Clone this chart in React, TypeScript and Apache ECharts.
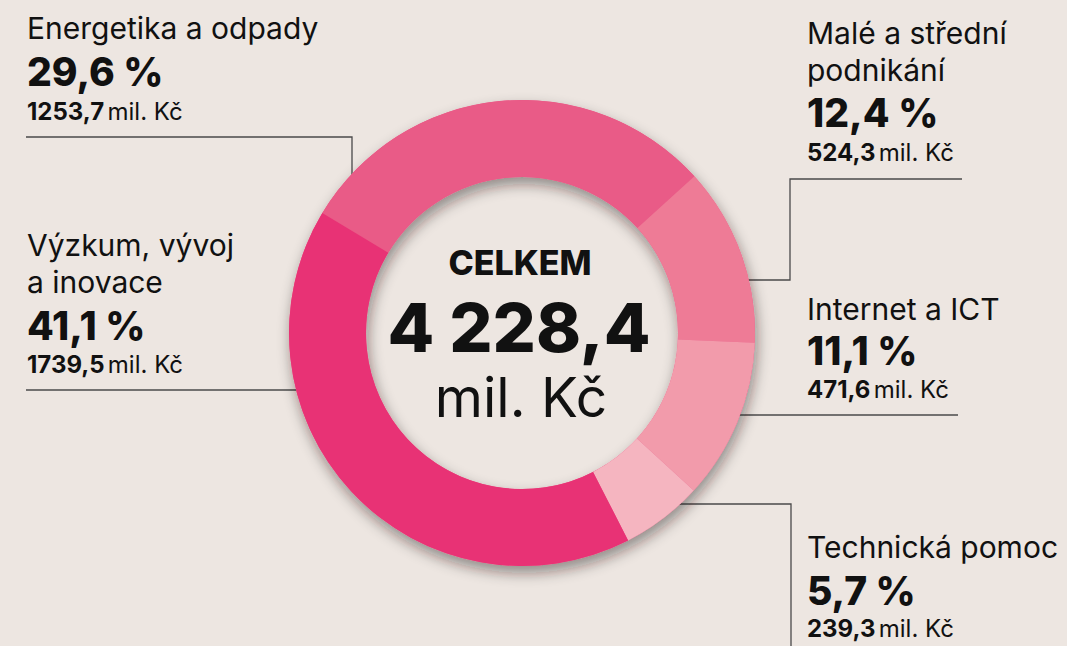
import React, { useEffect, useRef } from "react";
import * as echarts from "echarts";

// ---- data ----
const CATEGORIES = [
  "Energetika a odpady",
  "Malé a střední podnikání",
  "Internet a ICT",
  "Technická pomoc",
  "Výzkum, vývoj a inovace",
];
const LABEL_LINES = [
  ["Energetika a odpady"],
  ["Malé a střední", "podnikání"],
  ["Internet a ICT"],
  ["Technická pomoc"],
  ["Výzkum, vývoj", "a inovace"],
];
const VALUES = [1253.7, 524.3, 471.6, 239.3, 1739.5]; // mil. Kč
const SHARES = [29.6, 12.4, 11.1, 5.7, 41.1]; // %
const TOTAL = 4228.4;
const CENTER_TITLE = "CELKEM";
const UNIT = "mil. Kč";

// ---- styles / layout ----
const COLORS = ["#E95B87", "#EE7B96", "#F29BAB", "#F5B5C0", "#E83275"];
const BG = "#EDE6E1";
const FONT = "Inter, 'Noto Sans', sans-serif";
const CX = 522;
const CY = 333;
const R_IN = 156;
const R_OUT = 233;

// label blocks: x, y of each line's cap-centre
const LABEL_POS = [
  { x: 27, lines: [28], pct: 71.5, val: 111.5 },
  { x: 807, lines: [33, 70], pct: 112.5, val: 152.5 },
  { x: 807, lines: [309], pct: 350.5, val: 389.5 },
  { x: 807, lines: [547], pct: 590, val: 628.5 },
  { x: 27, lines: [245, 282], pct: 325.5, val: 364.5 },
];
const LEADERS = [
  [[26, 137], [352, 137], [352, 185]],
  [[962, 179], [790, 179], [790, 280], [745, 280]],
  [[958, 415], [735, 415]],
  [[791, 646], [791, 504], [675, 504]],
  [[26, 390], [300, 390]],
];

const fmt = (v: number) => v.toFixed(1).replace(".", ",");
const fmtTotal = (v: number) => {
  const [i, d] = v.toFixed(1).split(".");
  return i.replace(/\B(?=(\d{3})+(?!\d))/g, " ") + "," + d;
};

function txt(x: number, y: number, text: string, size: number, weight: any, align = "left") {
  return {
    type: "text",
    x,
    y,
    z: 10,
    style: {
      text,
      fill: "#111",
      fontSize: size,
      fontWeight: weight,
      fontFamily: FONT,
      align,
      verticalAlign: "middle",
      textAlign: align,
      textVerticalAlign: "middle",
    },
  };
}

function valText(x: number, y: number, v: number) {
  return {
    type: "text",
    x,
    y,
    z: 10,
    style: {
      text: `{b|${fmt(v)}} {r|${UNIT}}`,
      fill: "#111",
      align: "left",
      verticalAlign: "middle",
      textAlign: "left",
      textVerticalAlign: "middle",
      rich: {
        b: { fontSize: 24, fontWeight: 700, fontFamily: FONT, fill: "#111", color: "#111" },
        r: { fontSize: 24, fontWeight: 400, fontFamily: FONT, fill: "#111", color: "#111" },
      },
    },
  };
}

export default function App() {
  const ref = useRef<HTMLDivElement>(null);
  useEffect(() => {
    if (!ref.current) return;
    const chart = echarts.init(ref.current, undefined, { renderer: "svg" });

    const elements: any[] = [];
    LEADERS.forEach((pts) => {
      elements.push({
        type: "polyline",
        z: 0,
        shape: { points: pts },
        style: { stroke: "#4a4a4a", lineWidth: 1.3, fill: null },
      });
    });
    LABEL_POS.forEach((p, i) => {
      LABEL_LINES[i].forEach((line, j) => {
        elements.push(txt(p.x, p.lines[j], line, 30, 400));
      });
      elements.push(txt(p.x, p.pct, `${fmt(SHARES[i])} %`, 39, 800));
      elements.push(valText(p.x, p.val, VALUES[i]));
    });
    elements.push(txt(CX - 2, 262, CENTER_TITLE, 34, 800, "center"));
    elements.push(txt(CX - 3, 327, fmtTotal(TOTAL), 68, 800, "center"));
    elements.push(txt(CX - 1, 397, UNIT, 55, 400, "center"));

    chart.setOption({
      animation: false,
      backgroundColor: BG,
      graphic: { elements },
      series: [
        {
          type: "pie",
          name: "shadow",
          silent: true,
          z: 1,
          center: [CX, CY],
          radius: [R_IN, R_OUT],
          label: { show: false },
          labelLine: { show: false },
          itemStyle: {
            color: "#E95B87",
            shadowBlur: 14,
            shadowColor: "rgba(40,30,30,0.45)",
            shadowOffsetX: 2,
            shadowOffsetY: 7,
          },
          data: [{ value: TOTAL, name: "total" }],
        },
        {
          type: "pie",
          name: "Rozpočet",
          z: 2,
          center: [CX, CY],
          radius: [R_IN, R_OUT],
          startAngle: 149,
          clockwise: true,
          label: { show: false },
          labelLine: { show: false },
          itemStyle: { borderWidth: 0 },
          emphasis: { disabled: true },
          data: CATEGORIES.map((name, i) => ({
            name,
            value: VALUES[i],
            itemStyle: { color: COLORS[i] },
          })),
        },
      ],
    });
    return () => chart.dispose();
  }, []);
  return (
    <div
      ref={ref}
      style={{ position: "fixed", left: 0, top: 0, width: 1067, height: 646 }}
    />
  );
}
